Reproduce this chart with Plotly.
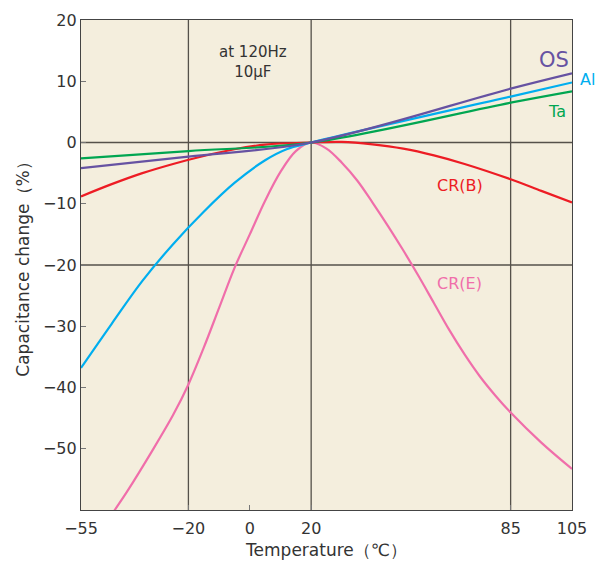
import plotly.graph_objects as go

# ---- data ----
temp_os = [-55, -20, 20, 85, 105]
cap_os = [-4.2, -2.3, 0, 8.8, 11.3]

temp_al = [-55, -45, -35, -25, -15, -5, 5, 12, 20, 85, 105]
cap_al = [-36.8, -29.6, -22.6, -16.6, -11.3, -6.6, -2.9, -1.1, 0, 7.5, 9.8]

temp_ta = [-55, -20, 20, 85, 105]
cap_ta = [-2.6, -1.4, 0, 6.5, 8.35]

temp_crb = [-55, -45, -35, -25, -15, -5, 5, 20, 30, 40, 50, 60, 70, 85, 95, 105]
cap_crb = [-8.8, -6.8, -5.0, -3.5, -2.2, -1.1, -0.35, 0, 0.1, -0.3, -1.0, -2.1, -3.5,
           -6.0, -7.9, -9.8]

temp_cre = [-55, -50, -44, -40, -32, -25, -20, -15, -10, -5, 0, 5, 10, 15, 20,
            25, 30, 35, 40, 45, 50, 55, 60, 65, 70, 75, 80, 85, 95, 105]
cap_cre = [-68.5, -64.5, -60, -57, -50.5, -44.5, -39.5, -33.5, -27, -20.5, -15, -9.5,
           -4.8, -1.4, 0, -1.0, -3.3, -6.2, -9.8, -13.6, -17.6, -21.8, -26.2, -30.6,
           -34.6, -38.2, -41.3, -44.1, -49, -53.3]

x_ticks = [-55, -20, 0, 20, 85, 105]
y_ticks = [20, 10, 0, -10, -20, -30, -40, -50]
grid_x = [-20, 20, 85]
grid_y = [0, -20]

series = [
    ("CR(E)", temp_cre, cap_cre, "#f06eaa"),
    ("CR(B)", temp_crb, cap_crb, "#ed1c24"),
    ("Al", temp_al, cap_al, "#00aeef"),
    ("Ta", temp_ta, cap_ta, "#00a651"),
    ("OS", temp_os, cap_os, "#6652a2"),
]

def fmt(v):
    return str(v).replace("-", "\u2212")

FONT = "DejaVu Sans"
fig = go.Figure()
for name, xs, ys, col in series:
    fig.add_trace(go.Scatter(x=xs, y=ys, mode="lines", name=name,
                             line=dict(color=col, width=2.2, shape="spline", smoothing=1.0),
                             showlegend=False, cliponaxis=True))

shapes = []
for gx in grid_x:
    shapes.append(dict(type="line", xref="x", yref="paper", x0=gx, x1=gx, y0=0, y1=1,
                       line=dict(color="#55514a", width=1.3), layer="below"))
for gy in grid_y:
    shapes.append(dict(type="line", xref="paper", yref="y", x0=0, x1=1, y0=gy, y1=gy,
                       line=dict(color="#55514a", width=1.3), layer="below"))

annotations = [
    dict(x=99, xref="x", y=13.4, text="OS", font=dict(color="#6652a2", size=21)),
    dict(x=1.012, xref="paper", xanchor="left", y=10.3, text="Al",
         font=dict(color="#00aeef", size=16)),
    dict(x=100, xref="x", y=5, text="Ta", font=dict(color="#00a651", size=16)),
    dict(x=68.5, xref="x", y=-7, text="CR(B)", font=dict(color="#ed1c24", size=16)),
    dict(x=68.5, xref="x", y=-23, text="CR(E)", font=dict(color="#f06eaa", size=16)),
    dict(x=1, xref="x", y=13.2, text="at 120Hz<br>10μF", font=dict(color="#333333", size=15)),
]
for a in annotations:
    a.update(yref="y", showarrow=False)

fig.update_layout(
    width=606, height=565,
    margin=dict(l=81, r=34, t=20, b=55),
    paper_bgcolor="white",
    plot_bgcolor="#f4eedd",
    font=dict(family=FONT, size=16, color="#333333"),
    shapes=shapes,
    annotations=annotations,
)
fig.update_xaxes(range=[-55, 105], tickvals=x_ticks, ticktext=[fmt(v) for v in x_ticks],
                 showgrid=False, zeroline=False, showline=True, linecolor="#444444",
                 linewidth=1.2, mirror=True, ticks="inside", ticklen=5, tickcolor="#777777",
                 ticklabelstandoff=4, automargin=False,
                 title=dict(text="Temperature（℃）", font=dict(size=17), standoff=6))
fig.update_yaxes(range=[-60, 20], tickvals=y_ticks, ticktext=[fmt(v) for v in y_ticks],
                 showgrid=False, zeroline=False, showline=True, linecolor="#444444",
                 linewidth=1.2, mirror=True, ticks="inside", ticklen=5, tickcolor="#777777",
                 automargin=False,
                 title=dict(text="Capacitance change（%）", font=dict(size=17), standoff=8))

fig.write_html("out.html")
